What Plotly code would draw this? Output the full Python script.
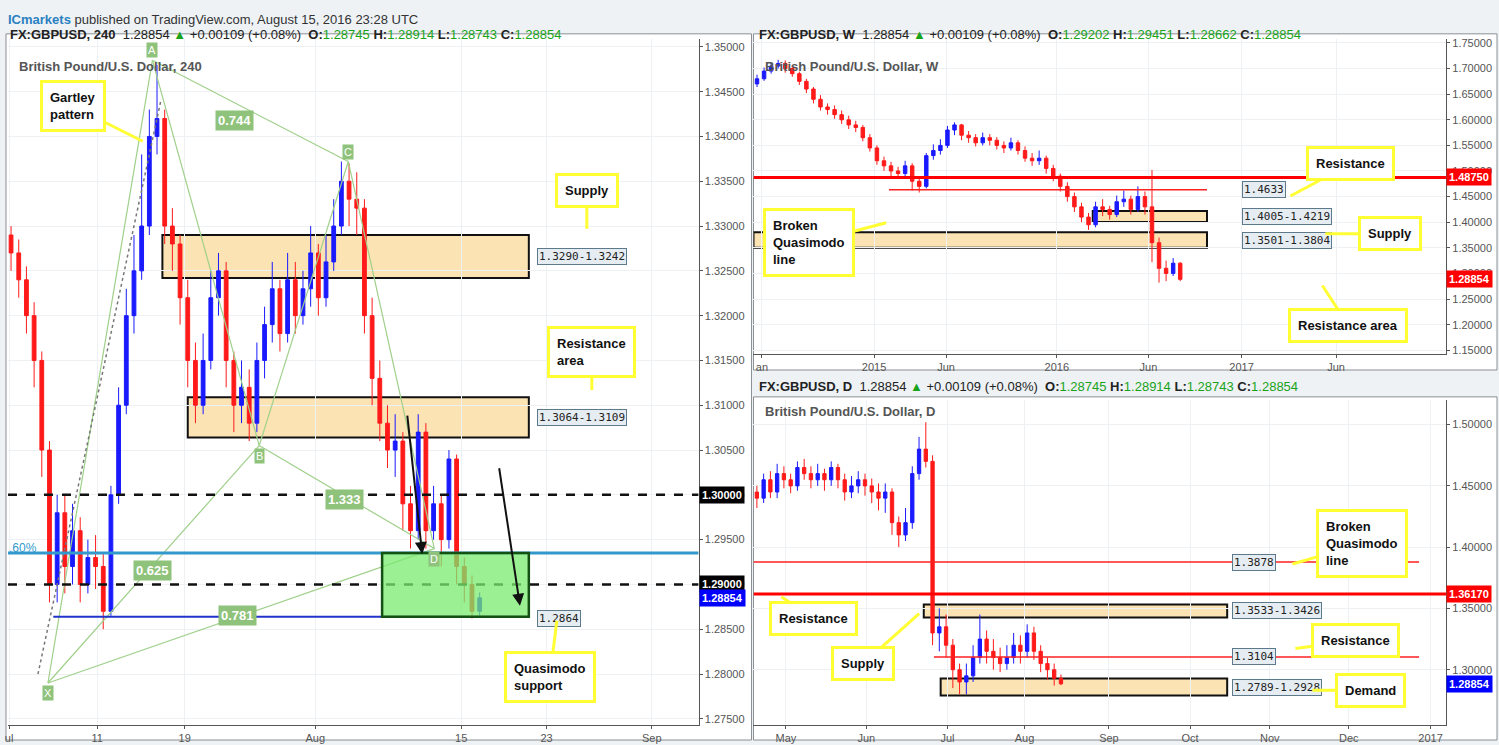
import plotly.graph_objects as go

W, H = 1499, 745

# ---- 240 chart (each candle ~ half a day) ----
h4_first_open = 1.3290
h4_close = [1.3270, 1.3240, 1.3200, 1.3150, 1.3050, 1.2900, 1.2980, 1.2920, 1.2960, 1.2900,
            1.2930, 1.2920, 1.2870, 1.3000, 1.3100, 1.3200, 1.3250, 1.3300, 1.3400, 1.3420,
            1.3300, 1.3280, 1.3220, 1.3150, 1.3100, 1.3150, 1.3220, 1.3250, 1.3150, 1.3100,
            1.3120, 1.3080, 1.3150, 1.3190, 1.3230, 1.3180, 1.3240, 1.3200, 1.3230, 1.3270,
            1.3220, 1.3260, 1.3300, 1.3350, 1.3330, 1.3320, 1.3200, 1.3130, 1.3080, 1.3050,
            1.3060, 1.2990, 1.2960, 1.3070, 1.2960, 1.2990, 1.2950, 1.3040, 1.2920, 1.2900,
            1.2870, 1.2885]
h4_high = [1.3300, 1.3285, 1.3255, 1.3215, 1.3160, 1.3060, 1.3000, 1.3000, 1.2990, 1.2975,
           1.2950, 1.2955, 1.2935, 1.3010, 1.3120, 1.3230, 1.3290, 1.3380, 1.3430, 1.3480,
           1.3430, 1.3320, 1.3290, 1.3240, 1.3170, 1.3180, 1.3250, 1.3270, 1.3260, 1.3160,
           1.3150, 1.3140, 1.3170, 1.3210, 1.3260, 1.3240, 1.3270, 1.3260, 1.3250, 1.3300,
           1.3280, 1.3290, 1.3330, 1.3372, 1.3370, 1.3360, 1.3330, 1.3220, 1.3150, 1.3100,
           1.3090, 1.3070, 1.3010, 1.3090, 1.3080, 1.3010, 1.3000, 1.3050, 1.3045, 1.2930,
           1.2910, 1.2891]
h4_low = [1.3250, 1.3220, 1.3180, 1.3120, 1.3020, 1.2880, 1.2880, 1.2890, 1.2900, 1.2880,
          1.2890, 1.2895, 1.2850, 1.2865, 1.2990, 1.3090, 1.3180, 1.3240, 1.3290, 1.3380,
          1.3280, 1.3250, 1.3190, 1.3120, 1.3080, 1.3090, 1.3140, 1.3200, 1.3120, 1.3070,
          1.3080, 1.3060, 1.3070, 1.3130, 1.3170, 1.3160, 1.3170, 1.3180, 1.3190, 1.3210,
          1.3200, 1.3210, 1.3250, 1.3290, 1.3300, 1.3290, 1.3180, 1.3100, 1.3060, 1.3030,
          1.3020, 1.2960, 1.2940, 1.2950, 1.2940, 1.2950, 1.2920, 1.2940, 1.2900, 1.2880,
          1.2862, 1.2865]
h4_open = [h4_first_open] + h4_close[:-1]
h4_ticks = [-0.26, 11.2, 22.6, 39.6, 58.6, 69.7, 83.4]
h4_ticktext = ["ul", "11", "19", "Aug", "15", "23", "Sep"]

# gartley points X A B C D
gart_names = ["X", "A", "B", "C", "D"]
gart_x = [4.8, 18.4, 32.3, 43.9, 55.1]
gart_y = [1.2790, 1.3485, 1.3055, 1.3372, 1.2940]
gart_ratio = ["0.744", "0.625", "1.333", "0.781"]
gart_ratio_x = [29.1, 18.4, 43.4, 29.5]
gart_ratio_y = [1.3418, 1.2915, 1.2995, 1.2865]

# ---- weekly chart (each candle ~ 2 weeks) ----
wk_first_open = 1.670
wk_close = [1.680, 1.695, 1.705, 1.710, 1.700, 1.690, 1.675, 1.660, 1.640, 1.625,
            1.620, 1.610, 1.600, 1.590, 1.585, 1.565, 1.545, 1.520, 1.510, 1.500,
            1.495, 1.510, 1.480, 1.470, 1.530, 1.540, 1.550, 1.580, 1.590, 1.570,
            1.565, 1.555, 1.565, 1.560, 1.550, 1.545, 1.555, 1.540, 1.525, 1.520,
            1.525, 1.505, 1.490, 1.470, 1.450, 1.430, 1.410, 1.395, 1.430, 1.425,
            1.415, 1.440, 1.445, 1.425, 1.450, 1.430, 1.360, 1.310, 1.300, 1.320, 1.2885]
wk_high = [1.688, 1.702, 1.712, 1.717, 1.716, 1.706, 1.694, 1.680, 1.664, 1.648,
           1.632, 1.628, 1.618, 1.608, 1.598, 1.590, 1.572, 1.550, 1.528, 1.518,
           1.508, 1.520, 1.515, 1.488, 1.535, 1.552, 1.562, 1.588, 1.595, 1.592,
           1.578, 1.572, 1.575, 1.572, 1.566, 1.558, 1.565, 1.560, 1.548, 1.535,
           1.540, 1.530, 1.512, 1.495, 1.478, 1.458, 1.438, 1.418, 1.440, 1.445,
           1.432, 1.452, 1.462, 1.452, 1.470, 1.460, 1.502, 1.370, 1.325, 1.330, 1.322]
wk_low = [1.664, 1.676, 1.690, 1.700, 1.692, 1.684, 1.668, 1.652, 1.632, 1.618,
          1.610, 1.602, 1.592, 1.582, 1.576, 1.558, 1.538, 1.512, 1.500, 1.490,
          1.486, 1.488, 1.462, 1.458, 1.466, 1.522, 1.532, 1.545, 1.570, 1.560,
          1.555, 1.548, 1.550, 1.550, 1.542, 1.535, 1.540, 1.532, 1.518, 1.510,
          1.512, 1.495, 1.480, 1.460, 1.440, 1.420, 1.400, 1.385, 1.390, 1.412,
          1.405, 1.410, 1.430, 1.415, 1.420, 1.415, 1.322, 1.282, 1.285, 1.295, 1.285]
wk_open = [wk_first_open] + wk_close[:-1]
wk_ticks = [0.7, 16.6, 26.8, 42.5, 55.5, 68.7, 82.1]
wk_ticktext = ["an", "2015", "Jun", "2016", "Jun", "2017", "Jun"]

# ---- daily chart (each candle ~ 2 days) ----
d_first_open = 1.445
d_close = [1.440, 1.455, 1.445, 1.460, 1.455, 1.450, 1.465, 1.460, 1.455, 1.460,
           1.455, 1.465, 1.455, 1.445, 1.450, 1.455, 1.450, 1.445, 1.440, 1.445,
           1.420, 1.410, 1.420, 1.460, 1.480, 1.470, 1.330, 1.335, 1.320, 1.300,
           1.290, 1.295, 1.310, 1.325, 1.315, 1.310, 1.305, 1.310, 1.320, 1.315,
           1.330, 1.315, 1.305, 1.300, 1.293, 1.2885]
d_high = [1.450, 1.460, 1.462, 1.468, 1.466, 1.460, 1.470, 1.472, 1.466, 1.468,
          1.464, 1.470, 1.468, 1.460, 1.458, 1.462, 1.460, 1.456, 1.452, 1.452,
          1.448, 1.425, 1.432, 1.466, 1.490, 1.502, 1.475, 1.350, 1.345, 1.325,
          1.305, 1.305, 1.320, 1.345, 1.332, 1.325, 1.318, 1.320, 1.330, 1.328,
          1.337, 1.335, 1.320, 1.310, 1.305, 1.296]
d_low = [1.432, 1.436, 1.440, 1.440, 1.448, 1.444, 1.446, 1.455, 1.448, 1.450,
         1.446, 1.450, 1.448, 1.438, 1.440, 1.444, 1.442, 1.436, 1.430, 1.428,
         1.410, 1.400, 1.405, 1.415, 1.455, 1.465, 1.320, 1.315, 1.310, 1.285,
         1.280, 1.280, 1.290, 1.305, 1.305, 1.300, 1.298, 1.300, 1.305, 1.305,
         1.310, 1.308, 1.298, 1.292, 1.287, 1.2874]
d_open = [d_first_open] + d_close[:-1]
d_ticks = [4.3, 16.2, 28.2, 39.6, 52.1, 64.1, 75.9, 87.6, 99.7]
d_ticktext = ["May", "Jun", "Jul", "Aug", "Sep", "Oct", "Nov", "Dec", "2017"]

UP, DN = "#1a1aff", "#ff1a1a"
FONT = "Liberation Sans, Arial, sans-serif"

fig = go.Figure()


def candles(o, h, l, c, xa, ya):
    fig.add_trace(go.Candlestick(
        x=list(range(len(c))), open=o, high=h, low=l, close=c, xaxis=xa, yaxis=ya,
        increasing=dict(line=dict(color=UP, width=1), fillcolor=UP),
        decreasing=dict(line=dict(color=DN, width=1), fillcolor=DN),
        whiskerwidth=0, showlegend=False, hoverinfo="skip"))


candles(h4_open, h4_high, h4_low, h4_close, "x", "y")
candles(wk_open, wk_high, wk_low, wk_close, "x2", "y2")
candles(d_open, d_high, d_low, d_close, "x3", "y3")

# gartley legs
legs = [(0, 1), (1, 2), (2, 3), (3, 4), (0, 2), (2, 4), (0, 4), (1, 3)]
for a, b in legs:
    fig.add_trace(go.Scatter(x=[gart_x[a], gart_x[b]], y=[gart_y[a], gart_y[b]],
                             mode="lines", line=dict(color="#9fd08a", width=1.2),
                             showlegend=False, hoverinfo="skip"))
fig.add_trace(go.Scatter(x=[3.5, 19.5], y=[1.2800, 1.3440], mode="lines",
                         line=dict(color="#777", width=1.5, dash="dot"),
                         showlegend=False, hoverinfo="skip"))

shapes = []
annots = []


def px(x):
    return x / W


def py(y):
    return 1 - y / H


# page panels
for x0, y0, x1, y1 in [(3, 32, 750, 742), (752, 32, 1497, 370), (752, 397, 1497, 742)]:
    shapes.append(dict(type="rect", xref="paper", yref="paper", x0=px(x0), x1=px(x1),
                       y0=py(y1), y1=py(y0), fillcolor="white",
                       line=dict(color="#8a8f94", width=1), layer="below"))


def hline(xa, ya, y, x0, x1, color, width, dash="solid"):
    shapes.append(dict(type="line", xref=xa, yref=ya, x0=x0, x1=x1, y0=y, y1=y,
                       line=dict(color=color, width=width, dash=dash)))


def zone(xa, ya, x0, x1, y0, y1, fill="#fbe3b4", border="#111", bw=2):
    shapes.append(dict(type="rect", xref=xa, yref=ya, x0=x0, x1=x1, y0=y0, y1=y1,
                       fillcolor=fill, line=dict(color=border, width=bw), layer="below"))


def tag(xa, ya, x, y, text):
    annots.append(dict(xref=xa, yref=ya, x=x, y=y, text=text, showarrow=False,
                       xanchor="left", bgcolor="#e6edf2", bordercolor="#5d7a8c",
                       borderwidth=1, borderpad=1,
                       font=dict(size=11, color="#222", family="DejaVu Sans Mono")))


def axtag(ya, xpx, y, text, bg):
    annots.append(dict(xref="paper", yref=ya, x=px(xpx), y=y, text="<b>" + text + "</b>",
                       showarrow=False, xanchor="left", bgcolor=bg, borderpad=2,
                       font=dict(size=11, color="white", family=FONT)))


def callout(bx, by, tx, ty, text):
    annots.append(dict(xref="paper", yref="paper", x=px(tx), y=py(ty),
                       ax=bx - tx, ay=by - ty, text="<b>" + text + "</b>",
                       showarrow=True, arrowhead=0, arrowwidth=3, arrowcolor="#ffff33",
                       bgcolor="white", bordercolor="#ffff33", borderwidth=3, borderpad=7,
                       align="left", font=dict(size=13, color="#111", family=FONT)))


# 240 panel drawings
zone("x", "y", 19.7, 67.4, 1.3242, 1.3290)
zone("x", "y", 23.0, 67.4, 1.3064, 1.3109)
hline("x", "y", 1.2935, -0.4, 89.5, "#3399cc", 3)
hline("x", "y", 1.2864, 5.5, 67.4, "#2233cc", 2)
hline("x", "y", 1.3000, -0.4, 89.5, "#111", 2.5, "dash")
hline("x", "y", 1.2900, -0.4, 89.5, "#111", 2.5, "dash")
shapes.append(dict(type="rect", xref="x", yref="y", x0=48.3, x1=67.4, y0=1.2864, y1=1.2935,
                   fillcolor="rgba(120,235,110,0.75)", line=dict(color="#145214", width=2.5)))
tag("x", "y", 68.5, 1.3266, "1.3290-1.3242")
tag("x", "y", 68.5, 1.3086, "1.3064-1.3109")
tag("x", "y", 68.5, 1.2862, "1.2864")
annots.append(dict(xref="paper", yref="y", x=px(4), y=1.2941, text=".60%", showarrow=False,
                   xanchor="left", font=dict(size=12, color="#3399cc", family=FONT)))
axtag("y", 697, 1.3000, "1.30000", "#000")
axtag("y", 697, 1.2900, "1.29000", "#000")
axtag("y", 697, 1.28854, "1.28854", "#0000ff")
for n, gx, gy in zip(gart_names, gart_x, gart_y):
    annots.append(dict(xref="x", yref="y", x=gx, y=gy, text=n, showarrow=False,
                       yshift=-10 if n in ("X", "B", "D") else 10, bgcolor="#8fc27a",
                       font=dict(size=11, color="white", family=FONT)))
for t, gx, gy in zip(gart_ratio, gart_ratio_x, gart_ratio_y):
    annots.append(dict(xref="x", yref="y", x=gx, y=gy, text="<b>" + t + "</b>", showarrow=False,
                       bgcolor="#8fc27a", borderpad=2,
                       font=dict(size=13, color="white", family=FONT)))
for x0, y0, x1, y1 in [(405, 415, 420, 555), (497, 468, 518, 607)]:
    annots.append(dict(xref="paper", yref="paper", x=px(x1), y=py(y1), ax=x0 - x1, ay=y0 - y1,
                       text="", showarrow=True, arrowhead=2, arrowsize=1.2, arrowwidth=2,
                       arrowcolor="#111"))
callout(70, 105, 140, 140, "Gartley<br>pattern")
callout(585, 190, 585, 228, "Supply")
callout(590, 352, 590, 390, "Resistance<br>area")
callout(548, 678, 555, 622, "Quasimodo<br>support")

# weekly drawings
zone("x2", "y2", 47.6, 63.8, 1.4005, 1.4219)
zone("x2", "y2", -0.5, 63.8, 1.3501, 1.3804)
hline("x2", "y2", 1.4875, -0.5, 97.7, "#ff0000", 3)
hline("x2", "y2", 1.4633, 18.7, 63.8, "#ff2020", 1.5)
tag("x2", "y2", 68.7, 1.4633, "1.4633")
tag("x2", "y2", 68.7, 1.4112, "1.4005-1.4219")
tag("x2", "y2", 68.7, 1.3652, "1.3501-1.3804")
axtag("y2", 1446, 1.4875, "1.48750", "#ff0000")
axtag("y2", 1446, 1.28854, "1.28854", "#ff0000")
callout(1350, 163, 1290, 195, "Resistance")
callout(1390, 233, 1325, 233, "Supply")
callout(808, 242, 885, 222, "Broken<br>Quasimodo<br>line")
callout(1348, 325, 1322, 285, "Resistance area")

# daily drawings
zone("x3", "y3", 24.7, 69.6, 1.3426, 1.3533)
zone("x3", "y3", 27.2, 69.6, 1.2789, 1.2928)
hline("x3", "y3", 1.3617, -0.5, 102, "#ff0000", 3)
hline("x3", "y3", 1.3878, -0.5, 98, "#ff2020", 1.5)
hline("x3", "y3", 1.3104, 26.2, 98, "#ff2020", 1.5)
tag("x3", "y3", 70.3, 1.3878, "1.3878")
tag("x3", "y3", 70.3, 1.3480, "1.3533-1.3426")
tag("x3", "y3", 70.3, 1.3104, "1.3104")
tag("x3", "y3", 70.3, 1.2858, "1.2789-1.2928")
axtag("y3", 1446, 1.3617, "1.36170", "#ff0000")
axtag("y3", 1446, 1.28854, "1.28854", "#0000ff")
callout(1362, 545, 1292, 565, "Broken<br>Quasimodo<br>line")
callout(812, 620, 780, 598, "Resistance")
callout(862, 665, 918, 615, "Supply")
callout(1355, 642, 1295, 650, "Resistance")
callout(1370, 692, 1312, 692, "Demand")

# headers
G = "#1aa31a"


def header(x, y, tf, o, h, l, c):
    t = ("<b>FX:GBPUSD, %s</b>  1.28854 <span style='color:%s'>▲</span> +0.00109 (+0.08%%)  "
         "<b>O:</b><span style='color:%s'>%s</span> <b>H:</b><span style='color:%s'>%s</span> "
         "<b>L:</b><span style='color:%s'>%s</span> <b>C:</b><span style='color:%s'>%s</span>"
         % (tf, G, G, o, G, h, G, l, G, c))
    annots.append(dict(xref="paper", yref="paper", x=px(x), y=py(y), text=t, showarrow=False,
                       xanchor="left", font=dict(size=13, color="#222", family=FONT)))


annots.append(dict(xref="paper", yref="paper", x=px(3), y=py(8),
                   text="<b><span style='color:#2a7fc1'>ICmarkets</span></b> published on TradingView.com, August 15, 2016 23:28 UTC",
                   showarrow=False, xanchor="left", font=dict(size=13, color="#333", family=FONT)))
header(5, 23, "240", "1.28745", "1.28914", "1.28743", "1.28854")
header(756, 23, "W", "1.29202", "1.29451", "1.28662", "1.28854")
header(756, 387, "D", "1.28745", "1.28914", "1.28743", "1.28854")
for x, y, t in [(14, 55, "British Pound/U.S. Dollar, 240"), (762, 55, "British Pound/U.S. Dollar, W"),
                (762, 412, "British Pound/U.S. Dollar, D")]:
    annots.append(dict(xref="paper", yref="paper", x=px(x), y=py(y), text="<b>" + t + "</b>",
                       showarrow=False, xanchor="left", font=dict(size=13, color="#555", family=FONT)))

ax_common = dict(showgrid=True, gridcolor="#eef1f4", zeroline=False, showline=True,
                 linecolor="#555", ticks="outside", ticklen=3, tickcolor="#555",
                 tickfont=dict(size=11, color="#555", family=FONT), rangeslider=dict(visible=False))
y_common = dict(showgrid=True, gridcolor="#eef1f4", zeroline=False, showline=True,
                linecolor="#555", side="right", ticks="outside", ticklen=3, tickcolor="#555",
                tickfont=dict(size=11, color="#555", family=FONT))

fig.update_layout(
    width=W, height=H, margin=dict(l=0, r=0, t=0, b=0),
    paper_bgcolor="#eef2f5", plot_bgcolor="white", showlegend=False,
    xaxis=dict(ax_common, domain=[px(5), px(697)], range=[-0.4, 89.5],
               tickvals=h4_ticks, ticktext=h4_ticktext, anchor="y"),
    yaxis=dict(y_common, domain=[py(727), py(37)], range=[1.2743, 1.3509],
               dtick=0.005, tickformat=".5f", anchor="x"),
    xaxis2=dict(ax_common, domain=[px(752), px(1446)], range=[-0.5, 97.7],
                tickvals=wk_ticks, ticktext=wk_ticktext, anchor="y2"),
    yaxis2=dict(y_common, domain=[py(354), py(37)], range=[1.1425, 1.7581],
                dtick=0.05, tickformat=".5f", anchor="x2"),
    xaxis3=dict(ax_common, domain=[px(752), px(1446)], range=[-0.5, 102],
                tickvals=d_ticks, ticktext=d_ticktext, anchor="y3"),
    yaxis3=dict(y_common, domain=[py(727), py(400)], range=[1.2548, 1.5202],
                dtick=0.05, tickformat=".5f", anchor="x3"),
    shapes=shapes, annotations=annots,
)
fig.write_html("out.html", config={"displayModeBar": False},
               post_script="document.body.style.margin='0';")
